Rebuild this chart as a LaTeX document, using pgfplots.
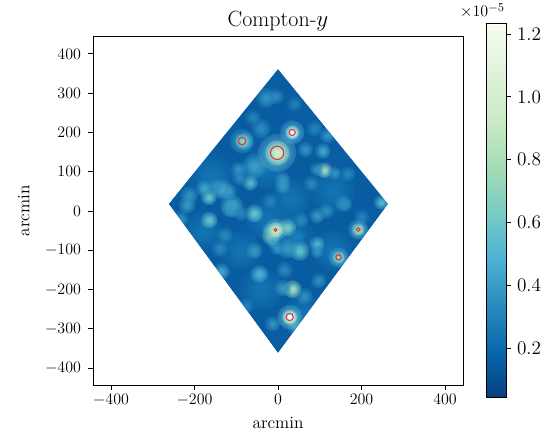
\documentclass[border=0pt]{standalone}
\usepackage{pgfplots}
\pgfplotsset{compat=1.18}
\usepackage{pgfplotstable}
\usetikzlibrary{fadings}
\pgfdeclareradialshading{softshade}{\pgfpointorigin}{color(0bp)=(white);color(5bp)=(white);color(12bp)=(white!72!black);color(20bp)=(white!36!black);color(30bp)=(white!10!black);color(40bp)=(black);color(50bp)=(black)}
\pgfdeclarefading{soft}{\pgfuseshading{softshade}}
\pgfdeclareplotmark{blob}{\path[draw=none,fill=mapped color,path fading=soft] (0pt,0pt) circle (0.42*\rr pt);}
\definecolor{ringred}{RGB}{214,55,60}
\pgfdeclareplotmark{ring}{\path[draw=ringred,line width=0.8pt,fill=none] (0pt,0pt) circle (\rr pt);}
\pgfplotstableread{
x y v r
-220 120 0.15 40
-120 150 0.15 40
-40 250 0.15 42
60 120 0.15 40
200 70 0.15 42
-200 -10 0.15 36
-70 30 0.15 40
70 30 0.15 42
-110 -60 0.15 44
-70 -160 0.15 44
-10 -250 0.15 40
100 -60 0.15 40
150 -30 0.15 35
80 -150 0.15 40
0 -120 0.15 38
-30 110 0.24 38
-160 90 0.24 40
130 50 0.24 40
30 30 0.24 36
-30 -20 0.24 36
-90 -100 0.24 36
-180 -50 0.24 34
-40 -200 0.24 38
60 -260 0.24 34
130 -100 0.24 36
30 -60 0.24 40
}\faint
\pgfplotstableread{
x y v r
111 104 0.72 14
92 106 0.36 12
135 97 0.36 12
-57 114 0.40 22
-134 55 0.44 18
-118 50 0.38 14
-150 62 0.36 14
-166 35 0.56 14
-67 72 0.50 14
11 80 0.38 14
11 63 0.38 14
107 153 0.42 14
65 157 0.36 14
-29 288 0.36 18
-5 292 0.33 14
118 193 0.36 14
-95 106 0.36 14
-92 85 0.33 14
-177 58 0.42 14
-111 13 0.46 20
247 22 0.50 13
155 20 0.34 14
79 70 0.32 14
167 95 0.31 14
-41 210 0.33 18
-61 239 0.30 14
87 210 0.30 15
39 273 0.28 14
-213 40 0.36 16
-218 15 0.38 15
-57 -6 0.56 16
-165 -23 0.56 15
22 -42 0.60 16
-17 -63 0.68 16
-22 -48 0.44 12
-12 -78 0.42 12
-3 -95 0.36 12
93 -84 0.48 14
93 -103 0.36 12
51 -101 0.54 18
22 -95 0.38 18
-57 -101 0.38 15
-45 -160 0.48 16
-136 -154 0.42 15
35 -199 0.74 16
11 -196 0.38 15
63 -217 0.34 15
97 -177 0.34 14
-13 -287 0.36 14
41 -295 0.38 14
93 -12 0.38 14
115 0 0.34 14
55 -23 0.32 14
-113 7 0.38 16
-90 -5 0.32 14
159 18 0.34 14
-77 -241 0.29 14
-140 -95 0.32 15
-128 -61 0.32 15
-233 -19 0.34 14
15 -150 0.32 15
200 -15 0.30 14
-20 25 0.30 14
45 -65 0.28 14
-2 148 0.55 34
-2 148 0.95 22
-86 178 0.42 22
-80 178 0.50 15
-86 178 0.70 12
34 200 0.50 22
34 200 1.23 12
-6 -48 0.60 20
-6 -48 0.95 14
192 -47 0.50 18
192 -47 0.80 11
145 -118 0.50 18
145 -118 0.70 11
28 -270 0.60 22
28 -270 1.23 13
}\blobs
\pgfplotstableread{
x y r
-2 148 5.0
-86 178 2.8
34 200 2.3
-6 -48 1.1
192 -47 1.4
145 -118 2.0
28 -270 2.7
}\rings
\begin{document}
\begin{tikzpicture}
\useasboundingbox (-69.75pt,-36pt) rectangle (339pt,288.75pt);
\begin{axis}[
  at={(0pt,0pt)},anchor=south west,
  scale only axis,width=277.5pt,height=261pt,
  xmin=-443,xmax=443,ymin=-443,ymax=443,
  axis on top,
  clip mode=individual,
  axis line style={line width=0.75pt},
  tick style={line width=0.6pt,black},
  major tick length=3.5pt,
  tick align=outside,
  xtick pos=bottom,ytick pos=left,
  xtick={-400,-200,0,200,400},
  ytick={-400,-300,-200,-100,0,100,200,300,400},
  title={Compton-$y$},
  title style={yshift=-5pt,font=\fontsize{16.5}{19}\selectfont},
  xlabel={arcmin},ylabel={arcmin},
  xlabel style={yshift=-1.5pt,font=\fontsize{13}{15}\selectfont},
  ylabel style={yshift=4.75pt,font=\fontsize{13}{15}\selectfont},
  tick label style={font=\fontsize{12.5}{14}\selectfont},
  yticklabel style={xshift=-2pt},
  colormap={gnbur}{rgb255=(8,64,129) rgb255=(8,104,172) rgb255=(43,140,190) rgb255=(78,179,211) rgb255=(123,204,196) rgb255=(168,221,181) rgb255=(204,235,197) rgb255=(224,243,219) rgb255=(247,252,240)},
  point meta min=0.044,point meta max=1.232,
  colorbar,
  colorbar style={
    at={(parent axis.north east)},anchor=north west,
    xshift=9pt,yshift=9.75pt,
    scale only axis,width=15pt,height=279.75pt,
    ytick={0.2,0.4,0.6,0.8,1.0,1.2},
    ytick pos=right,
    yticklabel pos=right,
    yticklabel style={font=\fontsize{13.5}{15}\selectfont,xshift=1pt},
    /pgf/number format/fixed,
    /pgf/number format/fixed zerofill,
    /pgf/number format/precision=1,
    axis line style={line width=0.75pt},
    major tick length=3.5pt,
    tick align=outside,
  },
]
\addplot[fill={rgb,255:red,10;green,92;blue,163},draw=none] coordinates {(0,362) (264,18) (0,-362) (-262,18)} -- cycle;
\addplot[scatter,only marks,mark=blob,point meta=explicit,
  visualization depends on={\thisrow{r}\as\rr}]
  table[x=x,y=y,meta=v] {\faint};
\addplot[scatter,only marks,mark=blob,point meta=explicit,
  visualization depends on={\thisrow{r}\as\rr}]
  table[x=x,y=y,meta=v] {\blobs};
\addplot[fill=white,draw=none] coordinates {(-443,18) (-262,18) (0,362) (0,443) (-443,443)} -- cycle;
\addplot[fill=white,draw=none] coordinates {(443,18) (264,18) (0,362) (0,443) (443,443)} -- cycle;
\addplot[fill=white,draw=none] coordinates {(-443,18) (-262,18) (0,-362) (0,-443) (-443,-443)} -- cycle;
\addplot[fill=white,draw=none] coordinates {(443,18) (264,18) (0,-362) (0,-443) (443,-443)} -- cycle;
\addplot[scatter,only marks,mark=ring,point meta=x,
  visualization depends on={\thisrow{r}\as\rr}]
  table[x=x,y=y] {\rings};
\end{axis}
\node[anchor=base east,inner sep=0pt] at (309pt,276pt) {\fontsize{13}{15}\selectfont$\times 10^{-5}$};
\end{tikzpicture}
\end{document}
